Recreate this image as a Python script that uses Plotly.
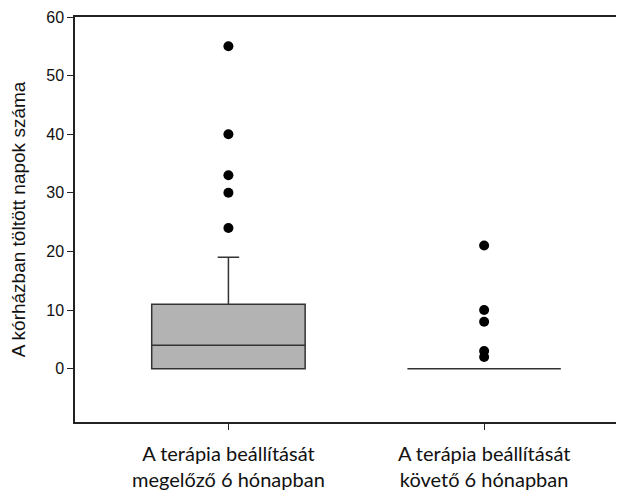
import plotly.graph_objects as go

categories = ["A terápia beállítását<br>megelőző 6 hónapban",
              "A terápia beállítását<br>követő 6 hónapban"]
q1 = [0, 0]
median = [4, 0]
q3 = [11, 0]
lowerfence = [0, 0]
upperfence = [19, 0]
outliers = [[24, 30, 33, 40, 55], [2, 3, 8, 10, 21]]
y_ticks = [0, 10, 20, 30, 40, 50, 60]

fig = go.Figure()
for i in range(len(categories)):
    fig.add_trace(go.Box(
        x=[i], q1=[q1[i]], median=[median[i]], q3=[q3[i]],
        lowerfence=[lowerfence[i]], upperfence=[upperfence[i]],
        fillcolor="#b3b3b3", line=dict(color="#333333", width=1.5),
        width=0.6, whiskerwidth=0.14, boxpoints=False, showlegend=False,
        hoverinfo="skip"))
    fig.add_trace(go.Scatter(
        x=[i] * len(outliers[i]), y=outliers[i], mode="markers",
        marker=dict(color="black", size=10), showlegend=False))

fig.update_layout(
    width=624, height=492,
    margin=dict(l=67, r=8, t=9, b=78, autoexpand=False),
    plot_bgcolor="white", paper_bgcolor="white",
    xaxis=dict(range=[-0.6, 1.547], tickvals=[0, 1], ticktext=categories,
               showline=True, linecolor="#222222", linewidth=1.5, mirror=True,
               ticks="outside", ticklen=6, tickcolor="#222222",
               ticklabelstandoff=7, automargin=False,
               showgrid=False, zeroline=False,
               tickfont=dict(family="Lato", size=20, color="#111111")),
    yaxis=dict(range=[-9.1, 60], tickvals=y_ticks,
               showline=True, linecolor="#222222", linewidth=1.5,
               ticks="outside", ticklen=6, tickcolor="#222222",
               showgrid=False, zeroline=False, automargin=False,
               tickfont=dict(family="Liberation Sans", size=16, color="#111111"),
               title=dict(text="A kórházban töltött napok száma", standoff=18,
                          font=dict(family="Liberation Sans", size=19, color="#111111"))),
)

fig.write_html("out.html")
